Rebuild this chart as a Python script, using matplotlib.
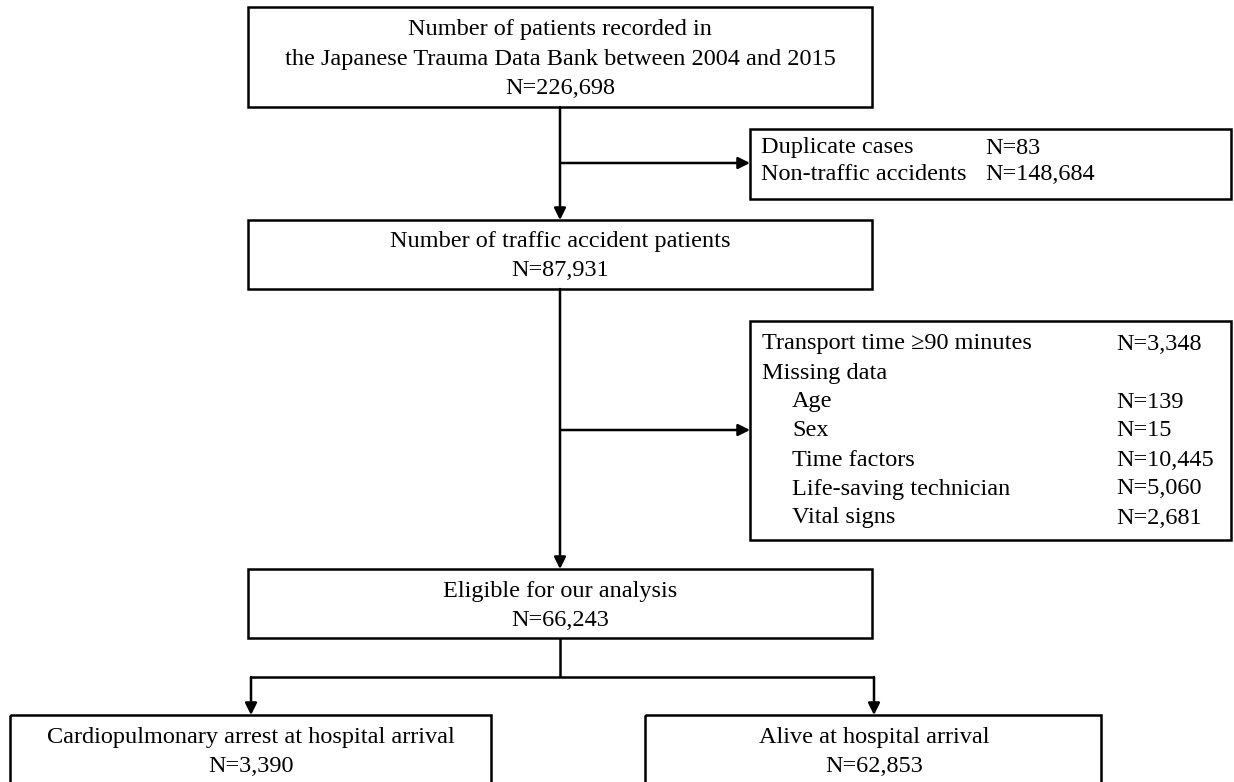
import matplotlib.pyplot as plt
from matplotlib.patches import Rectangle

plt.rcParams['font.family'] = ['Liberation Serif', 'DejaVu Serif']

# main flow boxes
main_labels = [
    "Number of patients recorded in\nthe Japanese Trauma Data Bank between 2004 and 2015",
    "Number of traffic accident patients",
    "Eligible for our analysis",
]
main_counts = ["226,698", "87,931", "66,243"]

# exclusions
excl1_labels = ["Duplicate cases", "Non-traffic accidents"]
excl1_counts = ["83", "148,684"]
excl2_labels = ["Transport time \u226590 minutes", "Missing data", "Age", "Sex",
                "Time factors", "Life-saving technician", "Vital signs"]
excl2_counts = ["3,348", "", "139", "15", "10,445", "5,060", "2,681"]
excl2_indent = [0, 0, 1, 1, 1, 1, 1]

# outcome groups
group_labels = ["Cardiopulmonary arrest at hospital arrival", "Alive at hospital arrival"]
group_counts = ["3,390", "62,853"]

fig = plt.figure(figsize=(12.34, 7.82), dpi=100)
ax = fig.add_axes([0, 0, 1, 1])
ax.set_xlim(0, 1234)
ax.set_ylim(782, 0)
ax.axis('off')

LW = 1.8
FS = 17.5


def box(x0, y0, x1, y1):
    ax.add_patch(Rectangle((x0, y0), x1 - x0, y1 - y0, fill=False,
                           edgecolor='black', linewidth=LW))


def line(xs, ys):
    ax.plot(xs, ys, color='black', linewidth=LW, solid_capstyle='butt')


def arrow(x0, y0, x1, y1):
    ax.annotate("", xy=(x1, y1), xytext=(x0, y0),
                arrowprops=dict(arrowstyle='-|>,head_length=0.5,head_width=0.25',
                                color='black', lw=LW,
                                mutation_scale=14, shrinkA=0, shrinkB=0))


cx = 560
main_boxes = [(248, 7, 872, 107), (248, 220, 872, 289), (248, 569, 872, 638)]
main_lines = [[29, 60, 88], [242, 270], [591, 620]]
for (x0, y0, x1, y1), lab, n, ys in zip(main_boxes, main_labels, main_counts, main_lines):
    box(x0, y0, x1, y1)
    texts = lab.split("\n") + ["N=" + n]
    for t, y in zip(texts, ys):
        ax.text(cx, y, t, ha='center', va='center', fontsize=FS)

# arrows down the main flow
arrow(cx, 107, cx, 220)
arrow(cx, 289, cx, 569)

# exclusion box 1
arrow(cx, 163, 750, 163)
box(750, 129, 1231, 199)
for i, (lab, n) in enumerate(zip(excl1_labels, excl1_counts)):
    y = 148 + i * 27
    ax.text(761, y, lab, ha='left', va='center', fontsize=FS)
    ax.text(985, y, "N=" + n, ha='left', va='center', fontsize=FS)

# exclusion box 2
arrow(cx, 430, 750, 430)
box(750, 321, 1231, 540)
for i, (lab, n, ind) in enumerate(zip(excl2_labels, excl2_counts, excl2_indent)):
    y = 344 + i * 29
    ax.text(762 + 30 * ind, y, lab, ha='left', va='center', fontsize=FS)
    if n:
        ax.text(1116, y, "N=" + n, ha='left', va='center', fontsize=FS)

# split into outcome groups
group_boxes = [(10, 715, 491, 800), (645, 715, 1101, 800)]
group_cx = [251, 874]
line([cx, cx], [638, 677])
line([group_cx[0], group_cx[1]], [677, 677])
for (x0, y0, x1, y1), gx, lab, n in zip(group_boxes, group_cx, group_labels, group_counts):
    arrow(gx, 677, gx, 715)
    box(x0, y0, x1, y1)
    ax.text(gx, 738, lab, ha='center', va='center', fontsize=FS)
    ax.text(gx, 767, "N=" + n, ha='center', va='center', fontsize=FS)

fig.savefig('out.png', dpi=100)
